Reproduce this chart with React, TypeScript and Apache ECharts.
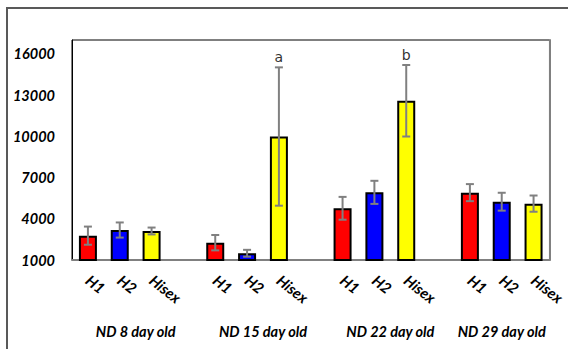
import React, { useEffect, useRef } from "react";
import * as echarts from "echarts";

// Groups and varieties
const groupLabels = ["ND 8 day old", "ND 15 day old", "ND 22 day old", "ND 29 day old"];
const varieties = ["H1", "H2", "Hisex"];
const varietyColors = ["#FF0000", "#0000FF", "#FFFF00"];

// Mean values per group (H1, H2, Hisex)
const h1Values = [2770, 2260, 4760, 5900];
const h2Values = [3180, 1490, 5920, 5240];
const hisexValues = [3110, 9980, 12580, 5100];

// Error (± half-range) per group
const h1Errors = [660, 560, 830, 620];
const h2Errors = [550, 250, 840, 650];
const hisexErrors = [250, 5030, 2600, 590];

// Significance letters above Hisex bars
const hisexLetters = ["", "a", "b", ""];

// Y-axis ticks
const yMin = 1000;
const yMax = 17000;
const yLabelStep = 3000;

const FONT = "Lato";

export default function App() {
  const ref = useRef<HTMLDivElement>(null);

  useEffect(() => {
    if (!ref.current) return;
    const chart = echarts.init(ref.current, null, { renderer: "svg" });

    const series = [h1Values, h2Values, hisexValues];
    const errs = [h1Errors, h2Errors, hisexErrors];

    const categories: string[] = [];
    const barData: any[] = [];
    const errData: any[] = [];
    const groupData: any[] = [];
    groupLabels.forEach((g, gi) => {
      const start = categories.length;
      varieties.forEach((v, vi) => {
        const idx = categories.length;
        categories.push(v);
        barData.push({ value: series[vi][gi], itemStyle: { color: varietyColors[vi] } });
        errData.push([idx, series[vi][gi], errs[vi][gi], vi === 2 ? hisexLetters[gi] : ""]);
      });
      const end = categories.length - 1;
      groupData.push([start, gi < groupLabels.length - 1 ? end + 1 : end, g]);
      if (gi < groupLabels.length - 1) {
        categories.push("");
        barData.push(null);
      }
    });

    const option: any = {
      animation: false,
      grid: {
        left: 72,
        top: 40,
        right: 14,
        bottom: 89,
        show: true,
        borderColor: "#000000",
        borderWidth: 1,
      },
      graphic: [
        {
          type: "rect",
          shape: { x: 7, y: 8, width: 700, height: 500 },
          style: { fill: "none", stroke: "#595959", lineWidth: 2 },
          silent: true,
        },
      ],
      xAxis: {
        type: "category",
        data: categories,
        axisLine: { show: true, lineStyle: { color: "#808080", width: 2 } },
        axisTick: { show: false },
        axisLabel: {
          rotate: -38,
          interval: 0,
          margin: 18,
          color: "#000000",
          fontFamily: FONT,
          fontStyle: "italic",
          fontWeight: "bold",
          fontSize: 15,
        },
        splitLine: { show: false },
      },
      yAxis: [
        {
          type: "value",
          min: yMin,
          max: yMax,
          interval: 1000,
          axisLine: { show: true, lineStyle: { color: "#000000", width: 1 } },
          axisTick: { show: false },
          splitLine: { show: false },
          axisLabel: {
            margin: 17,
            color: "#000000",
            fontFamily: FONT,
            fontStyle: "italic",
            fontWeight: "bold",
            fontSize: 14.5,
            formatter: (v: number) =>
              (v - yMin) % yLabelStep === 0 && v < yMax ? String(v) : "",
          },
        },
        {
          type: "value",
          position: "right",
          min: yMin,
          max: yMax,
          interval: 1000,
          axisLine: { show: true, lineStyle: { color: "#808080", width: 2 } },
          axisTick: { show: false },
          axisLabel: { show: false },
          splitLine: { show: false },
        },
      ],
      series: [
        {
          type: "bar",
          data: barData,
          barWidth: 18,
          itemStyle: { borderColor: "#000000", borderWidth: 2 },
        },
        {
          type: "custom",
          data: errData,
          z: 5,
          renderItem: (params: any, api: any) => {
            const x = api.value(0);
            const v = api.value(1);
            const e = api.value(2);
            const letter = errData[params.dataIndex][3];
            const top = api.coord([x, v + e]);
            const bot = api.coord([x, v - e]);
            const cap = 4;
            const style = { stroke: "#808080", lineWidth: 2 };
            const children: any[] = [
              { type: "line", shape: { x1: top[0], y1: top[1], x2: bot[0], y2: bot[1] }, style },
              { type: "line", shape: { x1: top[0] - cap, y1: top[1], x2: top[0] + cap, y2: top[1] }, style },
              { type: "line", shape: { x1: bot[0] - cap, y1: bot[1], x2: bot[0] + cap, y2: bot[1] }, style },
            ];
            if (letter) {
              children.push({
                type: "text",
                x: top[0],
                y: top[1] - 3,
                style: {
                  text: letter,
                  fill: "#333333",
                  font: `14px "DejaVu Sans"`,
                  align: "center",
                  verticalAlign: "bottom",
                },
              });
            }
            return { type: "group", children };
          },
        },
        {
          type: "custom",
          data: groupData,
          clip: false,
          renderItem: (params: any, api: any) => {
            const s = api.value(0);
            const e = api.value(1);
            const band = api.size([1, 0])[0];
            const left = api.coord([s, yMin])[0] - band / 2;
            const right = api.coord([e, yMin])[0] + band / 2;
            const base = api.coord([s, yMin])[1];
            return {
              type: "text",
              x: (left + right) / 2,
              y: base + 71,
              style: {
                text: groupData[params.dataIndex][2],
                fill: "#000000",
                font: `italic bold 14.5px ${FONT}`,
                align: "center",
                verticalAlign: "middle",
              },
            };
          },
        },
      ],
    };

    chart.setOption(option);
    return () => chart.dispose();
  }, []);

  return (
    <div
      ref={ref}
      style={{ position: "fixed", left: 0, top: 0, width: 568, height: 349, background: "#fff" }}
    />
  );
}
